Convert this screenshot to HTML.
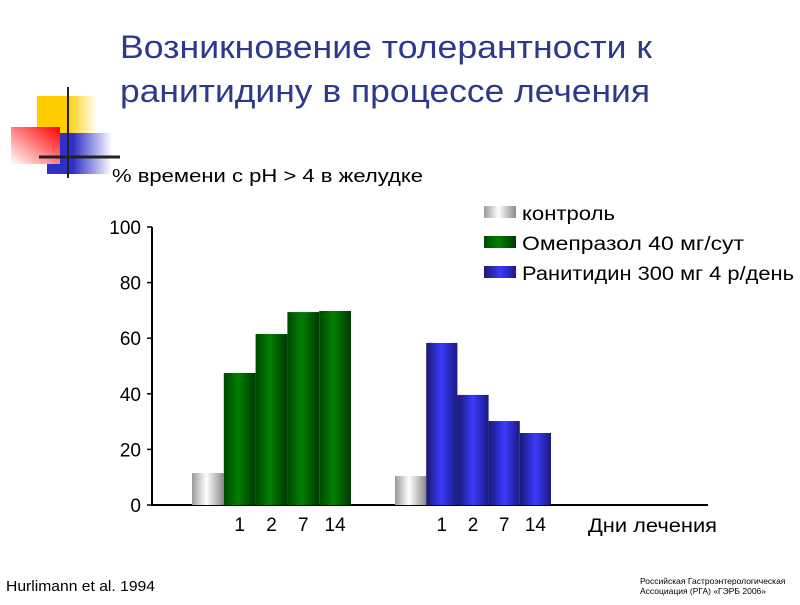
<!DOCTYPE html>
<html><head><meta charset="utf-8"><style>
body{margin:0;background:#fff;width:800px;height:600px;overflow:hidden;font-family:"Liberation Sans",sans-serif}
</style></head><body>
<svg width="800" height="600" xmlns="http://www.w3.org/2000/svg">
<defs>
<linearGradient id="gy" x1="0" x2="1" y1="0" y2="0"><stop offset="0" stop-color="#9a9a9a"/><stop offset="0.45" stop-color="#ffffff"/><stop offset="1" stop-color="#8a8a8a"/></linearGradient>
<linearGradient id="gg" x1="0" x2="1" y1="0" y2="0"><stop offset="0" stop-color="#004800"/><stop offset="0.45" stop-color="#008000"/><stop offset="1" stop-color="#003800"/></linearGradient>
<linearGradient id="gb" x1="0" x2="1" y1="0" y2="0"><stop offset="0" stop-color="#1a1a70"/><stop offset="0.5" stop-color="#3a3aff"/><stop offset="1" stop-color="#1a1a80"/></linearGradient>
<linearGradient id="dy" x1="0" x2="1"><stop offset="0.5" stop-color="#ffcc00"/><stop offset="1" stop-color="#fff"/></linearGradient>
<linearGradient id="db" x1="0" x2="1"><stop offset="0.4" stop-color="#3030c8"/><stop offset="1" stop-color="#fff"/></linearGradient>
<linearGradient id="dr" x1="1" y1="0" x2="0" y2="1"><stop offset="0" stop-color="#ff0000"/><stop offset="1" stop-color="#fff"/></linearGradient>
</defs>
<g>
<rect x="37" y="96" width="60" height="58" fill="url(#dy)"/>
<rect x="47" y="133" width="65" height="41" fill="url(#db)"/>
<rect x="11" y="127" width="49" height="37" fill="url(#dr)"/>
<line x1="68" y1="87" x2="68" y2="178" stroke="#222" stroke-width="2"/>
<line x1="39" y1="157" x2="120" y2="157" stroke="#222" stroke-width="3"/>
</g>
<text x="120" y="58" font-size="32" fill="#2d3a8c" textLength="532" lengthAdjust="spacingAndGlyphs">Возникновение толерантности к</text>
<text x="120" y="102" font-size="32" fill="#2d3a8c" textLength="530" lengthAdjust="spacingAndGlyphs">ранитидину в процессе лечения</text>
<text x="112" y="182" font-size="18" fill="#000" textLength="311" lengthAdjust="spacingAndGlyphs">% времени с pH &gt; 4 в желудке</text>
<g id="axes"></g>
<g id="bars"></g>
<g>
<rect x="484" y="206" width="32" height="12" fill="url(#gy)"/>
<text x="522" y="220" font-size="19" textLength="93" lengthAdjust="spacingAndGlyphs">контроль</text>
<rect x="484" y="236" width="32" height="12" fill="url(#gg)"/>
<text x="522" y="250" font-size="19" textLength="222" lengthAdjust="spacingAndGlyphs">Омепразол 40 мг/сут</text>
<rect x="484" y="266" width="32" height="12" fill="url(#gb)"/>
<text x="522" y="280" font-size="19" textLength="272" lengthAdjust="spacingAndGlyphs">Ранитидин 300 мг 4 р/день</text>
</g>
<text x="588" y="532" font-size="19" textLength="129" lengthAdjust="spacingAndGlyphs">Дни лечения</text>
<text x="6" y="591" font-size="15" textLength="149" lengthAdjust="spacingAndGlyphs">Hurlimann et al. 1994</text>
<text x="640" y="584" font-size="8.5">Российская Гастроэнтерологическая</text>
<text x="640" y="594" font-size="8.5">Ассоциация (РГА) «ГЭРБ 2006»</text>
</svg>
<script>
const yTicks=[0,20,40,60,80,100];
const dayLabels=["1","2","7","14"];
const omeControl=[11.5];
const omeprazole=[47.5,61.5,69.4,69.8];
const ranControl=[10.4];
const ranitidine=[58.3,39.6,30.2,25.9];
const NS="http://www.w3.org/2000/svg";
const y0=505,yTop=227;
function y(v){return y0-(v/100)*(y0-yTop);}
const ax=document.getElementById('axes'),bg=document.getElementById('bars');
function el(t,a,p){const e=document.createElementNS(NS,t);for(const k in a)e.setAttribute(k,a[k]);p.appendChild(e);return e;}
let l=el('line',{x1:152,y1:yTop,x2:152,y2:y0+1,stroke:'#000','stroke-width':2},ax);


l=el('line',{x1:151,y1:y0,x2:708,y2:y0,stroke:'#000','stroke-width':2},ax);


yTicks.forEach(v=>{
 const t=el('line',{x1:147,x2:152,y1:y(v),y2:y(v),stroke:'#000','stroke-width':1.5},ax);
 
 
 const tx=el('text',{x:141,y:y(v)+7,'font-size':19,'text-anchor':'end'},ax);
 tx.textContent=v;
 
 
});
function group(x0,bw,ctrl,vals,fill,nm){
 const all=[[ctrl[0],'url(#gy)','control']].concat(vals.map((v,i)=>[v,fill,nm+'-day-'+dayLabels[i]]));
 all.forEach((d,i)=>{
  const r=el('rect',{x:x0+i*bw,y:y(d[0]),width:bw,height:y0-y(d[0]),fill:d[1]},bg);
  
  
  if(i>0){const tx=el('text',{x:x0+i*bw+bw/2,y:531,'font-size':19,'text-anchor':'middle'},bg);
  tx.textContent=dayLabels[i-1];
  
  }
 });
}
group(192,31.8,omeControl,omeprazole,'url(#gg)','omeprazole');
group(395,31.2,ranControl,ranitidine,'url(#gb)','ranitidine');
</script>
</body></html>
